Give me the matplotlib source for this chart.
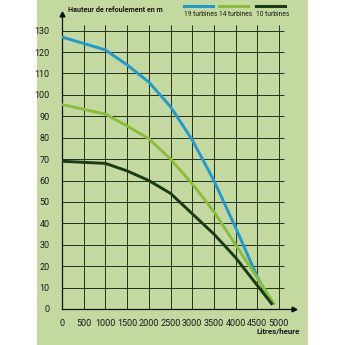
import matplotlib
matplotlib.use('Agg')
import matplotlib.pyplot as plt

plt.rcParams['font.family'] = ['Roboto', 'DejaVu Sans']

debits = [0, 1000, 1500, 2000, 2500, 3000, 3500, 4000, 4500]
h19 = [127, 121, 114, 106, 94.5, 79, 60, 38, 15]
h14 = [95.5, 91, 85.5, 79.5, 70, 58.5, 45.5, 30, 14.5]
h10 = [69, 68, 64.5, 60, 54, 44.5, 35, 24, 11]
fin19 = (4840, 2)
fin14 = (4900, 2)
fin10 = (4850, 2)

series = [
    ('19 turbines', h19, fin19, '#1f9ad3'),
    ('14 turbines', h14, fin14, '#89bd3c'),
    ('10 turbines', h10, fin10, '#1b3a16'),
]

xticks = list(range(0, 5001, 500))
yticks = list(range(0, 131, 10))

bg = '#c4d99f'
grid_c = '#22301a'

fig = plt.figure(figsize=(3.45, 3.45), dpi=100)
fig.patch.set_facecolor('white')

# panneau vert derrière le graphique
bg_ax = fig.add_axes([37 / 345, 0, 271 / 345, 1], zorder=-1)
bg_ax.set_facecolor(bg)
bg_ax.set_xticks([])
bg_ax.set_yticks([])
for s in bg_ax.spines.values():
    s.set_visible(False)

ax = fig.add_axes([62 / 345, 36 / 345, 232.2 / 345, 295.5 / 345])
ax.set_facecolor('none')
ax.set_xlim(0, 5350)
ax.set_ylim(0, 138)

ax.hlines(yticks[1:], 0, 5115, color=grid_c, lw=0.7, zorder=1)
ax.vlines(xticks[1:], 0, 132.7, color=grid_c, lw=0.7, zorder=1)

for spine in ['top', 'right']:
    ax.spines[spine].set_visible(False)
for spine in ['left', 'bottom']:
    ax.spines[spine].set_color('#111111')
    ax.spines[spine].set_linewidth(0.9)
ax.plot(1, 0, '>', color='#111111', ms=3.5, transform=ax.transAxes, clip_on=False)
ax.plot(0, 1, '^', color='#111111', ms=3.5, transform=ax.transAxes, clip_on=False)

for label, h, fin, col in series:
    xs = debits + [fin[0]]
    ys = h + [fin[1]]
    ax.plot(xs, ys, color=col, lw=2.1, solid_capstyle='butt', zorder=3)

ax.set_xticks(xticks)
ax.set_yticks(yticks)
ax.tick_params(length=0, labelsize=6.5, colors='#1a1a1a')
ax.tick_params(axis='x', pad=7)
ax.tick_params(axis='y', pad=9)

fig.text(68 / 345, 1 - 10 / 345, 'Hauteur de refoulement en m', fontsize=5.2,
         fontweight='bold', va='center', ha='left', color='#1a1a1a')
fig.text(300 / 345, 1 - 331 / 345, 'Litres/heure', fontsize=5.8,
         fontweight='bold', va='center', ha='right', color='#1a1a1a')

leg_x = [(184, 213), (219, 248), (256, 285)]
for (x0, x1), (label, h, fin, col) in zip(leg_x, series):
    fig.add_artist(plt.Line2D([x0 / 345, x1 / 345], [1 - 5.5 / 345] * 2,
                              color=col, lw=2.2, transform=fig.transFigure))
    fig.text(x0 / 345, 1 - 14.5 / 345, label, fontsize=4.8, va='center', ha='left',
             color='#1a1a1a')

fig.savefig('out.png', dpi=100, facecolor='white')
